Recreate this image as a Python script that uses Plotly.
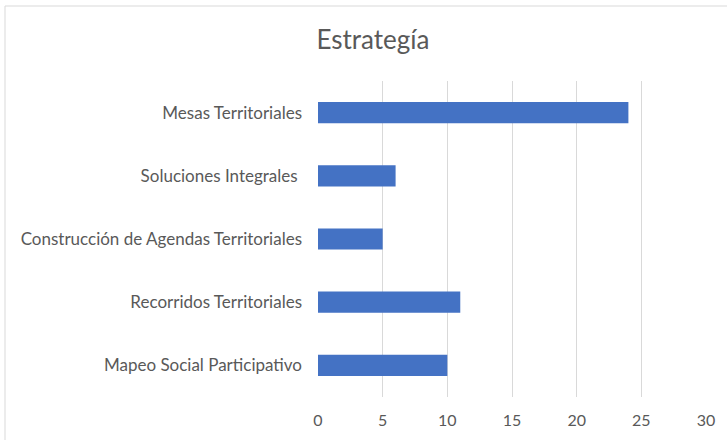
import plotly.graph_objects as go

categories = ["Mesas Territoriales", "Soluciones Integrales ", "Construcción de Agendas Territoriales",
              "Recorridos Territoriales", "Mapeo Social Participativo"]
values = [24, 6, 5, 11, 10]
x_ticks = [0, 5, 10, 15, 20, 25, 30]

font_family = "Lato, Carlito, Calibri, sans-serif"
grey = "#595959"

fig = go.Figure(go.Bar(
    x=values, y=categories, orientation="h",
    marker=dict(color="#4472C4", line=dict(width=0)),
))

fig.update_layout(
    width=727, height=440,
    margin=dict(l=318, r=21, t=81, b=43),
    paper_bgcolor="white", plot_bgcolor="white",
    bargap=0.665,
    showlegend=False,
    title=dict(text="Estrategía", x=373/727, xanchor="center", y=1-40/440, yanchor="middle",
               font=dict(family=font_family, size=26, color=grey)),
    font=dict(family=font_family, size=17, color=grey),
    xaxis=dict(range=[0, 30], tickvals=x_ticks, showgrid=True, gridcolor="#d9d9d9", gridwidth=1,
               zeroline=False, showline=False, ticks="", tickfont=dict(size=16, color=grey),
               ticklabelstandoff=12),
    yaxis=dict(autorange="reversed", showgrid=False, zeroline=False, showline=False,
               ticks="", tickfont=dict(size=17, color=grey), ticklabelstandoff=15),
    shapes=[
        dict(type="line", xref="paper", yref="paper", x0=(5-318)/388, x1=2, y0=(397-6)/316, y1=(397-6)/316,
             line=dict(color="#d9d9d9", width=1)),
        dict(type="line", xref="paper", yref="paper", x0=(5-318)/388, x1=(5-318)/388, y0=-1, y1=(397-6)/316,
             line=dict(color="#d9d9d9", width=1)),
    ],
)

fig.write_html("out.html", config={"displayModeBar": False},
               post_script="document.body.style.margin='0';document.body.style.overflow='hidden';")
